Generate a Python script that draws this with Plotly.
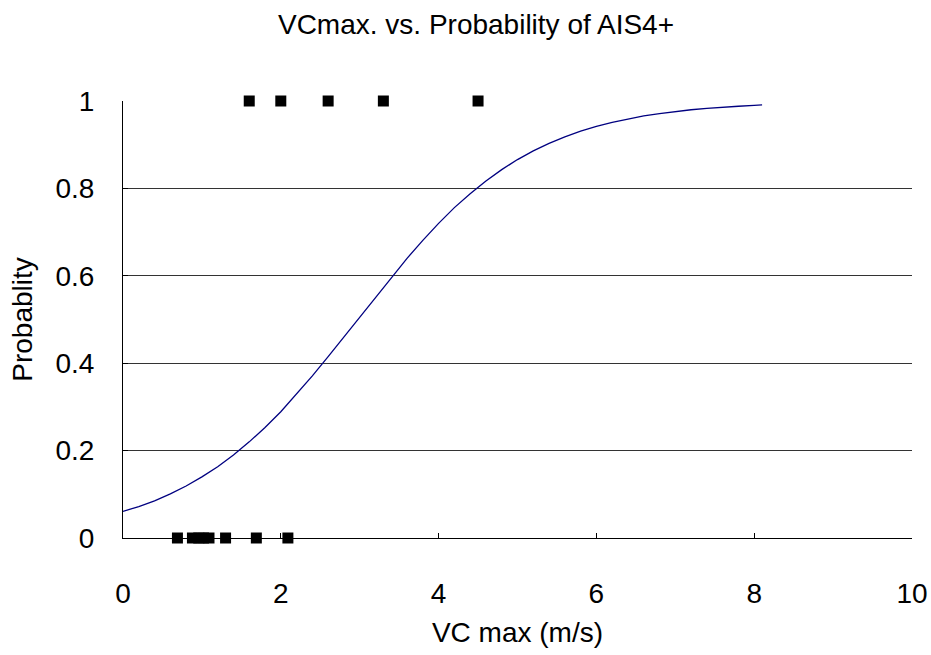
import plotly.graph_objects as go

# Observed data (0/1 outcomes)
x_ais4 = [1.6, 2.0, 2.6, 3.3, 4.5]
y_ais4 = [1, 1, 1, 1, 1]
x_none = [0.69, 0.88, 0.96, 1.02, 1.09, 1.30, 1.69, 2.09]
y_none = [0, 0, 0, 0, 0, 0, 0, 0]

# Fitted probability curve
curve_x = [0, 0.2, 0.4, 0.6, 0.8, 1.0, 1.2, 1.4, 1.6, 1.8, 2.0, 2.2, 2.4, 2.6, 2.8,
           3.0, 3.2, 3.4, 3.6, 3.8, 4.0, 4.2, 4.4, 4.6, 4.8, 5.0, 5.2, 5.4, 5.6, 5.8,
           6.0, 6.2, 6.4, 6.6, 6.8, 7.0, 7.2, 7.4, 7.6, 7.8, 8.0, 8.1]
curve_y = [0.061, 0.072, 0.085, 0.101, 0.119, 0.140, 0.163, 0.190, 0.220, 0.253,
           0.289, 0.329, 0.371, 0.415, 0.460, 0.506, 0.552, 0.597, 0.640, 0.681,
           0.720, 0.756, 0.788, 0.817, 0.843, 0.866, 0.886, 0.903, 0.918, 0.931,
           0.942, 0.951, 0.959, 0.966, 0.971, 0.976, 0.980, 0.983, 0.986, 0.988,
           0.990, 0.991]

FONT = "Liberation Sans, Arial, sans-serif"
FS = 28

fig = go.Figure()
fig.add_trace(go.Scatter(x=curve_x, y=curve_y, mode="lines",
                         line=dict(color="#000080", width=1.3),
                         showlegend=False, cliponaxis=False))
fig.add_trace(go.Scatter(x=x_ais4 + x_none, y=y_ais4 + y_none, mode="markers",
                         marker=dict(symbol="square", size=11, color="black"),
                         showlegend=False, cliponaxis=False))

fig.update_layout(
    width=931, height=655,
    paper_bgcolor="white", plot_bgcolor="white",
    margin=dict(l=123, r=19, t=101, b=117, autoexpand=False),
    title=dict(text="VCmax. vs. Probability of AIS4+", x=476 / 931, xanchor="center",
               y=1 - 24 / 655, yanchor="middle",
               font=dict(family=FONT, size=FS, color="black")),
    font=dict(family=FONT, color="black"),
)
fig.update_xaxes(range=[0, 10], dtick=2, showgrid=False, zeroline=False, automargin=False,
                 showline=True, linecolor="black", linewidth=1,
                 ticks="inside", ticklen=5, tickcolor="black",
                 tickfont=dict(size=FS), ticklabelstandoff=30,
                 title=dict(text="VC max (m/s)", font=dict(size=FS), standoff=14))
fig.update_yaxes(range=[0, 1], dtick=0.2, showgrid=True, gridcolor="#333333", gridwidth=1,
                 zeroline=False, showline=True, linecolor="black", linewidth=1,
                 automargin=False,
                 ticks="inside", ticklen=5, tickcolor="black",
                 tickfont=dict(size=FS), ticklabelstandoff=22,
                 tickvals=[0, 0.2, 0.4, 0.6, 0.8, 1],
                 ticktext=["0", "0.2", "0.4", "0.6", "0.8", "1"],
                 title=dict(text="Probablity", font=dict(size=FS), standoff=14))

fig.write_html("out.html")
